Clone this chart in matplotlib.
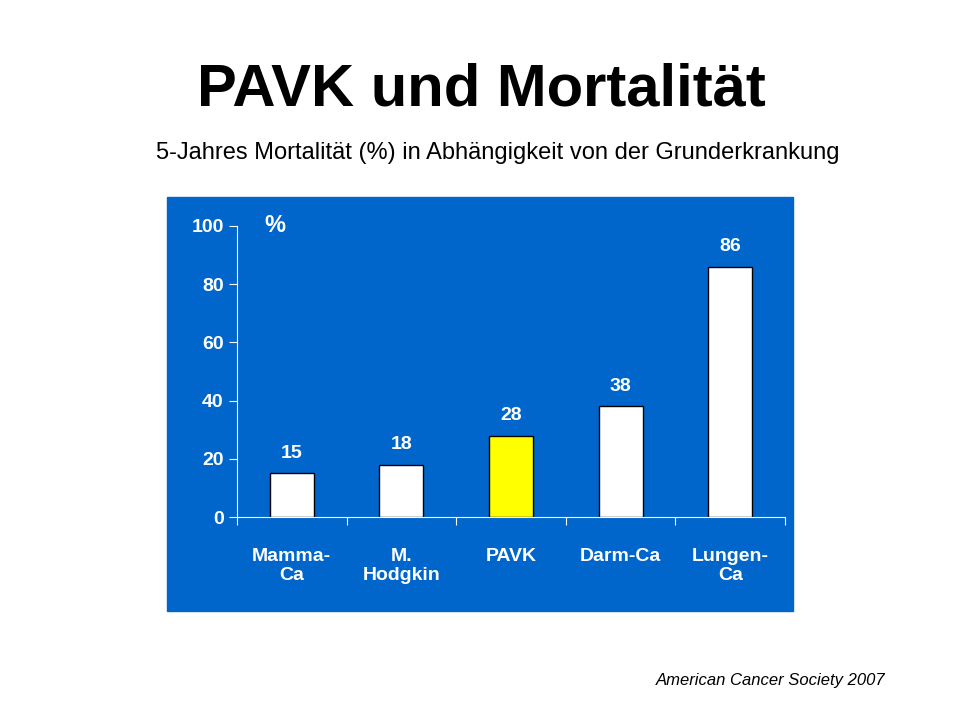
import matplotlib.pyplot as plt
from matplotlib.patches import Rectangle

categories = ["Mamma-\nCa", "M.\nHodgkin", "PAVK", "Darm-Ca", "Lungen-\nCa"]
values = [15, 18, 28, 38, 86]
bar_colors = ["white", "white", "#FFFF00", "white", "white"]

plt.rcParams["font.family"] = "Liberation Sans"
fig = plt.figure(figsize=(9.6, 7.2), dpi=100)

# blue panel behind the chart
fig.patches.append(Rectangle((167 / 960, 1 - 611 / 720), 626 / 960, 414 / 720,
                             transform=fig.transFigure, color="#0066CC", zorder=-1))

ax = fig.add_axes([237 / 960, 1 - 517 / 720, 548 / 960, 291 / 720])
ax.set_zorder(2)
ax.set_facecolor("none")
x = range(len(categories))
ax.bar(x, values, width=0.4, color=bar_colors, edgecolor="black", linewidth=1)
for i, v in zip(x, values):
    ax.text(i, v + 4, str(v), ha="center", va="bottom", color="white",
            fontsize=14, fontweight="bold")

ax.set_xlim(-0.5, len(categories) - 0.5)
ax.set_ylim(0, 100)
ax.set_yticks([0, 20, 40, 60, 80, 100])
ax.set_xticks([i - 0.5 for i in range(len(categories) + 1)], minor=False)
ax.set_xticklabels([])
ax.set_xticks(list(x), minor=True)
ax.set_xticklabels(categories, minor=True)
ax.tick_params(axis="x", which="minor", length=0, pad=22)
ax.tick_params(axis="x", which="major", length=6, color="white", direction="out")
ax.tick_params(axis="y", length=6, color="white", labelcolor="white", labelsize=14)
for lbl in ax.get_yticklabels():
    lbl.set_fontweight("bold")
for lbl in ax.get_xticklabels(minor=True):
    lbl.set_color("white")
    lbl.set_fontsize(14)
    lbl.set_fontweight("bold")
for side in ["top", "right"]:
    ax.spines[side].set_visible(False)
for side in ["left", "bottom"]:
    ax.spines[side].set_color("white")

ax.text(0.05, 1.0, "%", transform=ax.transAxes, ha="left", va="center",
        color="white", fontsize=17, fontweight="bold")

fig.text(481 / 960, 1 - 90 / 720, "PAVK und Mortalität", ha="center", va="center",
         fontsize=43, fontweight="bold")
fig.text(498 / 960, 1 - 153 / 720,
         "5-Jahres Mortalität (%) in Abhängigkeit von der Grunderkrankung",
         ha="center", va="center", fontsize=17)
fig.text(885 / 960, 1 - 681 / 720, "American Cancer Society 2007",
         ha="right", va="center", fontsize=12, style="italic")

fig.savefig("out.png", dpi=100)
